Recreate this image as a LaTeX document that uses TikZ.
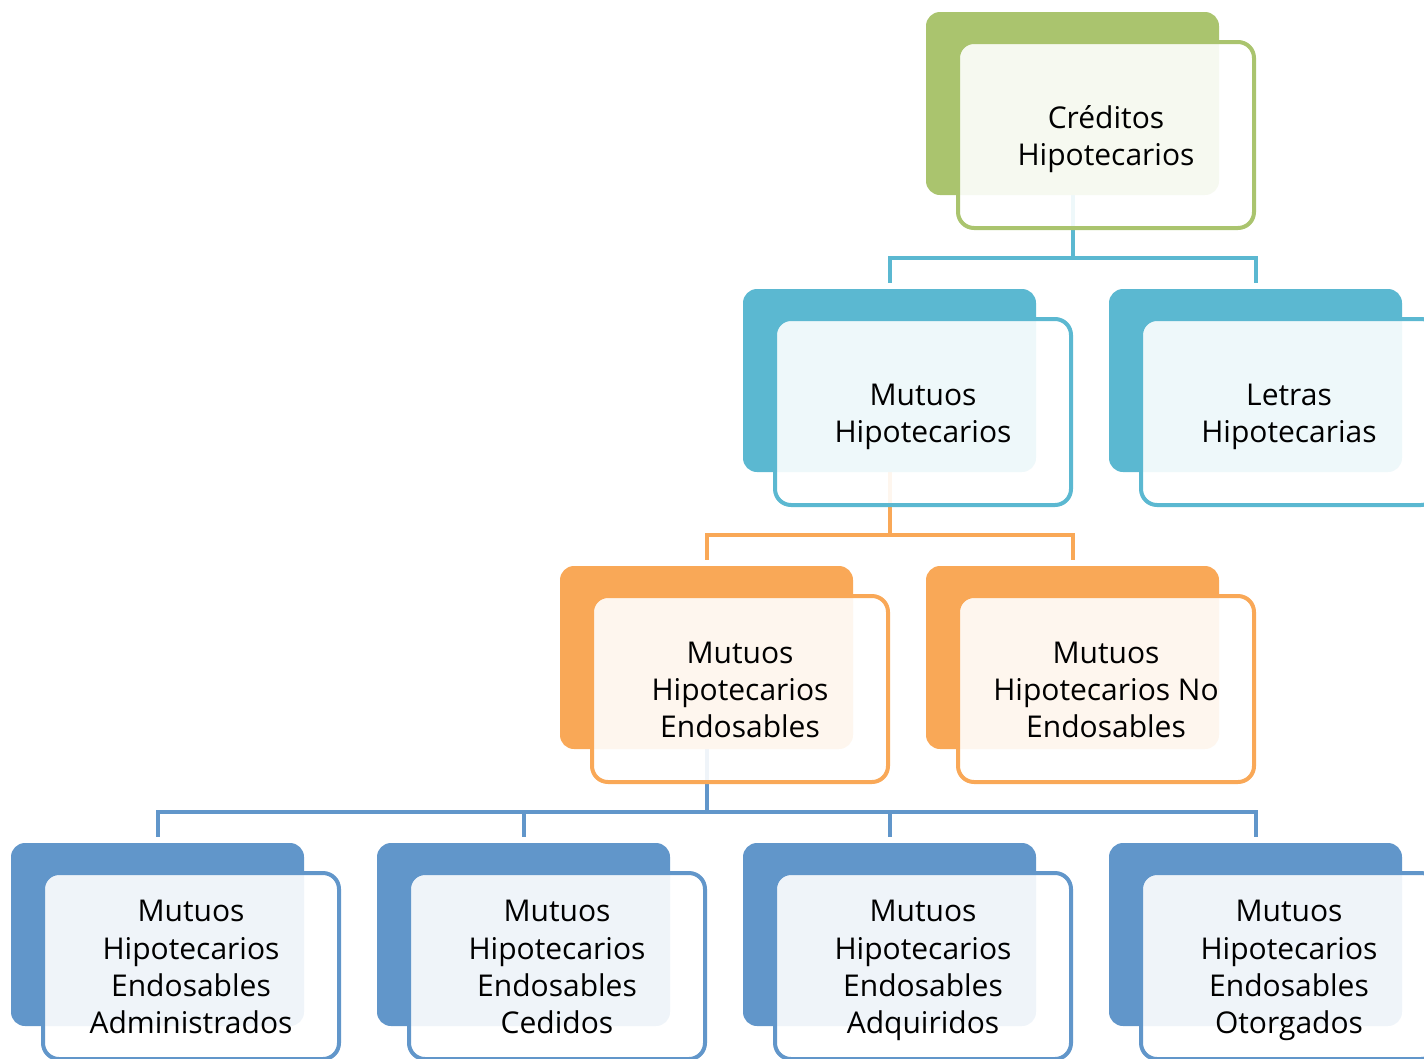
\documentclass[tikz,border=0pt]{standalone}
\usepackage{fontspec}
\setmainfont{Open Sans}
\usetikzlibrary{calc}
\definecolor{cgreen}{HTML}{AAC46E}
\definecolor{cteal}{HTML}{5BB8D1}
\definecolor{corange}{HTML}{F9A857}
\definecolor{cblue}{HTML}{6196CA}
\pgfdeclarelayer{bg}
\pgfsetlayers{bg,main}

% back card (solid) plus overlapping front card carrying the label;
% the tall rule on the first line sets the label slightly below centre
\newcommand\orgbox[5]{%
  \node[backbox, fill=#4] (#1) at (#2+146.5, #3+91.5) {};
  \node[frontbox, draw=#4] (#1f) at (#2+180, #3+123)
    {\rule{0pt}{34.5pt}#5\strut};
}

\begin{document}
\begin{tikzpicture}[x=1pt, y=-1pt,
  backbox/.style={rectangle, rounded corners=14pt, minimum width=293pt,
    minimum height=183pt, inner sep=0pt, draw=none},
  frontbox/.style={rectangle, rounded corners=16pt, minimum width=296pt,
    minimum height=186pt, inner sep=0pt, line width=4pt, fill=white,
    fill opacity=0.9, text opacity=1, align=center,
    font=\fontsize{30}{37.3}\selectfont},
  conn/.style={line width=4pt, draw=#1}]
\useasboundingbox (0,0) rectangle (1424,1058);
\clip (0,0) rectangle (1424,1058);

\orgbox{n0}{926}{12}{cgreen}{Créditos\\Hipotecarios}
\orgbox{n1a}{743}{289}{cteal}{Mutuos\\Hipotecarios}
\orgbox{n1b}{1109}{289}{cteal}{Letras\\Hipotecarias}
\orgbox{n2a}{560}{566}{corange}{Mutuos\\Hipotecarios\\Endosables}
\orgbox{n2b}{926}{566}{corange}{Mutuos\\Hipotecarios No\\Endosables}
\orgbox{n3a}{11}{843}{cblue}{Mutuos\\Hipotecarios\\Endosables\\Administrados}
\orgbox{n3b}{377}{843}{cblue}{Mutuos\\Hipotecarios\\Endosables\\Cedidos}
\orgbox{n3c}{743}{843}{cblue}{Mutuos\\Hipotecarios\\Endosables\\Adquiridos}
\orgbox{n3d}{1109}{843}{cblue}{Mutuos\\Hipotecarios\\Endosables\\Otorgados}

\begin{pgfonlayer}{bg}
  \draw[conn=cteal] (n0.south) -- ++(0,63) coordinate (j0);
  \draw[conn=cteal] (j0) -| ([yshift=6pt]n1a.north);
  \draw[conn=cteal] (j0) -| ([yshift=6pt]n1b.north);

  \draw[conn=corange] (n1a.south) -- ++(0,63) coordinate (j1);
  \draw[conn=corange] (j1) -| ([yshift=6pt]n2a.north);
  \draw[conn=corange] (j1) -| ([yshift=6pt]n2b.north);

  \draw[conn=cblue] (n2a.south) -- ++(0,63) coordinate (j2);
  \draw[conn=cblue] (j2) -| ([yshift=6pt]n3a.north);
  \draw[conn=cblue] (j2) -| ([yshift=6pt]n3b.north);
  \draw[conn=cblue] (j2) -| ([yshift=6pt]n3c.north);
  \draw[conn=cblue] (j2) -| ([yshift=6pt]n3d.north);
\end{pgfonlayer}
\end{tikzpicture}
\end{document}
